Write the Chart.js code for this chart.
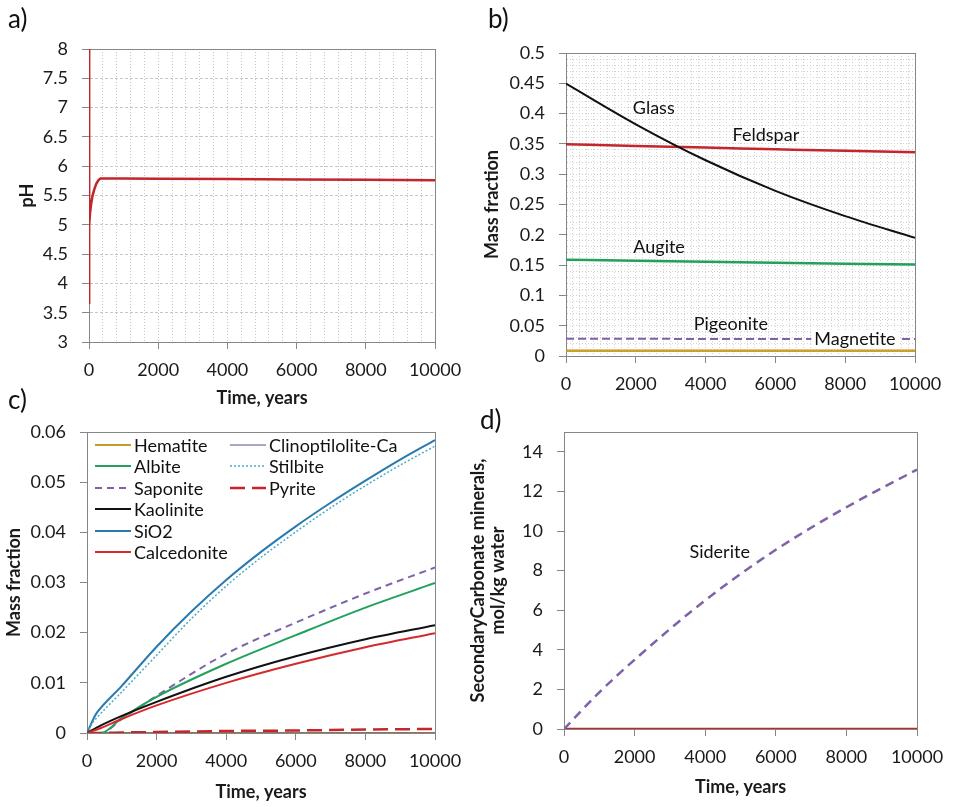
<!DOCTYPE html>
<html>
<head>
<meta charset="utf-8">
<script src="https://cdn.jsdelivr.net/npm/chart.js@4.4.1/dist/chart.umd.min.js"></script>
<style>
body { margin: 0; background: #fff; font-family: Lato, "Open Sans", sans-serif; }
#wrap { position: relative; width: 955px; height: 807px; overflow: hidden; }
.box { position: absolute; }
.tag { position: absolute; font-size: 26px; color: #111; line-height: 1; }
.li { position: absolute; height: 20px; display: flex; align-items: center; white-space: nowrap; font-size: 18px; color: #111; }
.li svg { margin-right: 3px; }
</style>
</head>
<body>
<div id="wrap">
  <div class="box" style="left:0;top:0"><canvas id="chartA" width="477" height="415"></canvas></div>
  <div class="box" style="left:477px;top:0"><canvas id="chartB" width="478" height="415"></canvas></div>
  <div class="box" style="left:0;top:405px"><canvas id="chartC" width="477" height="402"></canvas></div>
  <div class="box" style="left:460px;top:405px"><canvas id="chartD" width="495" height="402"></canvas></div>
  <div class="tag" style="left:8px;top:5px">a)</div>
  <div class="tag" style="left:488px;top:5px">b)</div>
  <div class="tag" style="left:8px;top:386px">c)</div>
  <div class="tag" style="left:480px;top:406px">d)</div>
  <div id="legendC"></div>
</div>

<script>
// -----------------------------
// Data
// -----------------------------
// a) pH
const phTime = [0, 0, 10, 30, 60, 100, 150, 210, 270, 330, 1000, 2000, 4000, 6000, 8000, 10000];
const phValue = [8, 3.65, 5.0, 5.2, 5.35, 5.49, 5.6, 5.7, 5.76, 5.79, 5.79, 5.785, 5.78, 5.775, 5.77, 5.76];

// b) primary minerals, mass fraction
const bTime = [0, 2000, 4000, 6000, 8000, 10000];
const glass = [0.4495, 0.3824, 0.323, 0.2725, 0.2308, 0.195];
const feldspar = [0.3495, 0.3467, 0.344, 0.3412, 0.3385, 0.3363];
const augite = [0.1588, 0.1571, 0.1555, 0.1538, 0.1522, 0.1511];
const pigeonite = [0.0286, 0.0286, 0.028, 0.028, 0.028, 0.028];
const magnetite = [0.0088, 0.0088, 0.0088, 0.0088, 0.0088, 0.0088];

// c) secondary minerals, mass fraction
const cTime = [0, 400, 1000, 2000, 4000, 6000, 8000, 10000];
const hematite = [0, 0, 0, 0, 0, 0, 0, 0];
const albite = [0, 0, 0.003, 0.0072, 0.0138, 0.0195, 0.025, 0.0299];
const saponite = [0, 0, 0.0028, 0.0074, 0.0158, 0.022, 0.0278, 0.033];
const kaolinite = [0, 0.0015, 0.0034, 0.0062, 0.0112, 0.0153, 0.0187, 0.0215];
const calcedonite = [0, 0.001, 0.0028, 0.0055, 0.01, 0.0138, 0.0171, 0.0199];
const clinoptilolite = [0, 0, 0, 0, 0, 0, 0, 0];
const pyrite = [0, 0, 0.0001, 0.0002, 0.0004, 0.0005, 0.0007, 0.0008];
// SiO2 and stilbite bend sharply near the start, so they are read more densely
const sio2Time = [0, 300, 1000, 2000, 3000, 4000, 5000, 6000, 7000, 8000, 9000, 10000];
const sio2 = [0, 0.0042, 0.0094, 0.0172, 0.0242, 0.0305, 0.0361, 0.0412, 0.0459, 0.0503, 0.0545, 0.0584];
const stilbiteTime = [0, 200, 1000, 2000, 3000, 4000, 5000, 6000, 7000, 8000, 9000, 10000];
const stilbite = [0, 0.0024, 0.0082, 0.0155, 0.0228, 0.0293, 0.035, 0.0401, 0.0449, 0.0493, 0.0534, 0.0572];

// d) secondary carbonates, mol/kg water
const dTime = [0, 1000, 2000, 4000, 6000, 8000, 10000];
const siderite = [0, 1.85, 3.5, 6.5, 9.05, 11.2, 13.1];
const otherCarbonate = [0, 0, 0, 0, 0, 0, 0];

const xTicks = [0, 2000, 4000, 6000, 8000, 10000];

// -----------------------------
// Styles
// -----------------------------
const axisGray = '#868686';
const gridGray = '#c8c8c8';
const gridGrayB = '#d2d2d2';
const style = {
    pH:                  { color: '#c0262b', width: 2.5, dash: [] },
    Glass:               { color: '#111111', width: 2, dash: [] },
    Feldspar:            { color: '#c3272c', width: 2.5, dash: [] },
    Augite:              { color: '#22a05c', width: 2.5, dash: [] },
    Pigeonite:           { color: '#7f62a8', width: 2, dash: [8, 4] },
    Magnetite:           { color: '#c9a22c', width: 2.5, dash: [] },
    Hematite:            { color: '#c49a2c', width: 2, dash: [] },
    Albite:              { color: '#22a05c', width: 2, dash: [] },
    Saponite:            { color: '#7f62a8', width: 2, dash: [7, 5] },
    Kaolinite:           { color: '#111111', width: 2, dash: [] },
    SiO2:                { color: '#2a7ab0', width: 2, dash: [] },
    Calcedonite:         { color: '#d62a2a', width: 2, dash: [] },
    'Clinoptilolite-Ca': { color: '#5b4a8a', width: 1, dash: [] },
    Stilbite:            { color: '#4bacc6', width: 1.5, dash: [2, 2] },
    Pyrite:              { color: '#c3272c', width: 2.5, dash: [15, 7] },
    Siderite:            { color: '#7f62a8', width: 2.5, dash: [9, 6] },
    Other:               { color: '#c3272c', width: 2.5, dash: [] }
};

Chart.defaults.font.family = 'Lato, "Open Sans", sans-serif';
Chart.defaults.font.size = 18;
Chart.defaults.color = '#1a1a1a';
Chart.defaults.animation = false;

// curve: 'monotone', 'straight' or a bezier tension value
function series(label, xs, ys, curve) {
    const s = style[label];
    return {
        label: label,
        data: xs.map((x, i) => ({ x: x, y: ys[i] })),
        borderColor: s.color,
        borderWidth: s.width,
        borderDash: s.dash,
        pointRadius: 0,
        fill: false,
        cubicInterpolationMode: curve === 'monotone' ? 'monotone' : 'default',
        tension: typeof curve === 'number' ? curve : 0
    };
}

const isMajorX = v => xTicks.includes(Math.round(v));

function timeAxis(step, height, title, titlePad, gridOn, gridColor) {
    return {
        type: 'linear', min: 0, max: 10000,
        ticks: { stepSize: step, autoSkip: false, maxRotation: 0, padding: 10,
                 callback: v => isMajorX(v) ? String(v) : '' },
        grid: { display: true, drawOnChartArea: gridOn, color: gridColor || gridGray, tickLength: 7,
                tickColor: ctx => (ctx.tick && isMajorX(ctx.tick.value)) ? axisGray : 'rgba(0,0,0,0)' },
        border: { color: axisGray, dash: [1, 2] },
        title: { display: !!title, text: title, font: { size: 18, weight: 'bold' },
                 padding: { top: 0, bottom: titlePad } },
        afterFit: s => { s.height = height; }
    };
}

// plot frame, drawn below the lines
const framePlugin = {
    id: 'frame',
    beforeDatasetsDraw(chart) {
        const a = chart.chartArea, ctx = chart.ctx;
        ctx.save();
        ctx.strokeStyle = axisGray;
        ctx.lineWidth = 1;
        ctx.strokeRect(Math.round(a.left) + 0.5, Math.round(a.top) + 0.5,
                       Math.round(a.right - a.left), Math.round(a.bottom - a.top));
        ctx.restore();
    }
};

// text labels anchored in data coordinates
function labelPlugin(items) {
    return {
        id: 'textLabels',
        afterDatasetsDraw(chart) {
            const ctx = chart.ctx;
            ctx.save();
            ctx.font = '18px Lato, "Open Sans", sans-serif';
            ctx.textAlign = 'center';
            ctx.textBaseline = 'middle';
            items.forEach(it => {
                const x = chart.scales.x.getPixelForValue(it.x);
                const y = chart.scales.y.getPixelForValue(it.y);
                if (it.bg) {
                    const w = ctx.measureText(it.text).width;
                    ctx.fillStyle = '#fff';
                    ctx.fillRect(x - w / 2 - 3, y - 9, w + 6, 18);
                }
                ctx.fillStyle = '#111';
                ctx.fillText(it.text, x, y);
            });
            ctx.restore();
        }
    };
}

// -----------------------------
// a) pH
// -----------------------------
new Chart(document.getElementById('chartA'), {
    type: 'line',
    data: { datasets: [series('pH', phTime, phValue, 'straight')] },
    options: {
        responsive: false,
        layout: { padding: { left: 0, top: 49, right: 42, bottom: 0 } },
        plugins: { legend: { display: false }, tooltip: { enabled: false } },
        scales: {
            x: timeAxis(400, 73, 'Time, years', 6, true),
            y: {
                min: 3, max: 8,
                ticks: { stepSize: 0.5, padding: 14, callback: v => String(v) },
                grid: { color: gridGray, tickLength: 7, tickColor: axisGray },
                border: { color: axisGray, dash: [3, 2] },
                title: { display: true, text: 'pH', font: { size: 18, weight: 'bold' }, padding: { top: 16, bottom: 0 } },
                afterFit: s => { s.width = 89; }
            }
        }
    },
    plugins: [framePlugin]
});

// -----------------------------
// b) primary minerals
// -----------------------------
new Chart(document.getElementById('chartB'), {
    type: 'line',
    data: {
        datasets: [
            series('Glass', bTime, glass, 'monotone'),
            series('Feldspar', bTime, feldspar, 'monotone'),
            series('Augite', bTime, augite, 'monotone'),
            series('Pigeonite', bTime, pigeonite, 'monotone'),
            series('Magnetite', bTime, magnetite, 'monotone')
        ]
    },
    options: {
        responsive: false,
        layout: { padding: { left: 0, top: 53, right: 40, bottom: 0 } },
        plugins: { legend: { display: false }, tooltip: { enabled: false } },
        scales: {
            x: timeAxis(200, 59, '', 0, true, gridGrayB),
            y: {
                min: 0, max: 0.5,
                ticks: { stepSize: 0.01, autoSkip: false, padding: 14,
                         callback: v => Math.round(v * 100) % 5 === 0 ? String(+v.toFixed(2)) : '' },
                grid: { color: gridGrayB, tickLength: 7,
                        tickColor: ctx => (ctx.tick && Math.round(ctx.tick.value * 100) % 5 === 0) ? axisGray : 'rgba(0,0,0,0)' },
                border: { color: axisGray, dash: [1, 2] },
                title: { display: true, text: 'Mass fraction', font: { size: 18, weight: 'bold' }, padding: { top: 4, bottom: 0 } },
                afterFit: s => { s.width = 89; }
            }
        }
    },
    plugins: [framePlugin, labelPlugin([
        { text: 'Glass', x: 2515, y: 0.409 },
        { text: 'Feldspar', x: 5727, y: 0.364 },
        { text: 'Augite', x: 2667, y: 0.179 },
        { text: 'Pigeonite', x: 4723, y: 0.053 },
        { text: 'Magnetite', x: 8280, y: 0.028, bg: true }
    ])]
});

// -----------------------------
// c) secondary minerals
// -----------------------------
new Chart(document.getElementById('chartC'), {
    type: 'line',
    data: {
        datasets: [
            series('Pyrite', cTime, pyrite, 'monotone'),
            series('Calcedonite', cTime, calcedonite, 'monotone'),
            series('Kaolinite', cTime, kaolinite, 'monotone'),
            series('Albite', cTime, albite, 'monotone'),
            series('Saponite', cTime, saponite, 'monotone'),
            series('Stilbite', stilbiteTime, stilbite, 0.3),
            series('SiO2', sio2Time, sio2, 0.3),
            series('Clinoptilolite-Ca', cTime, clinoptilolite, 'monotone'),
            series('Hematite', cTime, hematite, 'monotone')
        ]
    },
    options: {
        responsive: false,
        layout: { padding: { left: 0, top: 27, right: 42, bottom: 0 } },
        plugins: { legend: { display: false }, tooltip: { enabled: false } },
        scales: {
            x: timeAxis(2000, 74, 'Time, years', 4, false),
            y: {
                min: 0, max: 0.06,
                ticks: { stepSize: 0.01, padding: 14, callback: v => String(+v.toFixed(2)) },
                grid: { drawOnChartArea: false, tickLength: 7, tickColor: axisGray },
                border: { color: axisGray },
                title: { display: true, text: 'Mass fraction', font: { size: 18, weight: 'bold' }, padding: { top: 3, bottom: 0 } },
                afterFit: s => { s.width = 87; }
            }
        }
    },
    plugins: [framePlugin]
});

// HTML legend for panel c (two columns inside the plot)
const legendCol1 = ['Hematite', 'Albite', 'Saponite', 'Kaolinite', 'SiO2', 'Calcedonite'];
const legendCol2 = ['Clinoptilolite-Ca', 'Stilbite', 'Pyrite'];
const legendBox = document.getElementById('legendC');
function addLegendColumn(names, left) {
    names.forEach((name, i) => {
        const s = style[name];
        const div = document.createElement('div');
        div.className = 'li';
        div.style.left = left + 'px';
        div.style.top = (435 + i * 21.4) + 'px';
        div.innerHTML = '<svg width="36" height="8"><line x1="0" y1="4" x2="36" y2="4" stroke="' + s.color +
            '" stroke-width="' + s.width + '" stroke-dasharray="' + (s.dash.length ? s.dash.join(' ') : 'none') +
            '"/></svg><span>' + name + '</span>';
        legendBox.appendChild(div);
    });
}
addLegendColumn(legendCol1, 95);
addLegendColumn(legendCol2, 230);

// -----------------------------
// d) secondary carbonates
// -----------------------------
new Chart(document.getElementById('chartD'), {
    type: 'line',
    data: {
        datasets: [
            series('Siderite', dTime, siderite, 'monotone'),
            series('Other', dTime, otherCarbonate, 'monotone')
        ]
    },
    options: {
        responsive: false,
        layout: { padding: { left: 0, top: 27, right: 38, bottom: 0 } },
        plugins: { legend: { display: false }, tooltip: { enabled: false } },
        scales: {
            x: timeAxis(2000, 78, 'Time, years', 9, false),
            y: {
                min: 0, max: 15,
                ticks: { stepSize: 2, includeBounds: false, padding: 14, callback: v => String(v) },
                grid: { drawOnChartArea: false, tickLength: 7, tickColor: axisGray },
                border: { color: axisGray },
                title: { display: true, text: ['SecondaryCarbonate minerals,', 'mol/kg water'],
                         font: { size: 18, weight: 'bold', lineHeight: 1.1 }, padding: { top: 8, bottom: 0 } },
                afterFit: s => { s.width = 104; }
            }
        }
    },
    plugins: [framePlugin, labelPlugin([
        { text: 'Siderite', x: 4411, y: 8.94 }
    ])]
});
</script>
</body>
</html>
